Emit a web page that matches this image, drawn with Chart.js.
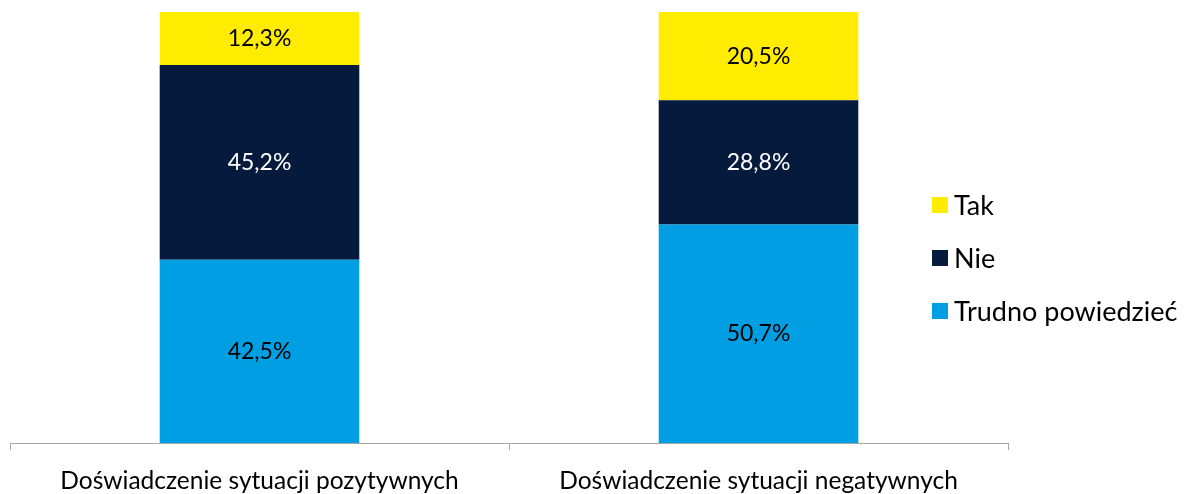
<!DOCTYPE html>
<html>
<head>
<meta charset="utf-8">
<script src="https://cdn.jsdelivr.net/npm/chart.js@4/dist/chart.umd.min.js"></script>
<style>
html,body{margin:0;padding:0;background:#fff;}
#wrap{position:relative;width:1185px;height:494px;}
</style>
</head>
<body>
<div id="wrap"><canvas id="c"></canvas></div>
<script>
const categories=['Doświadczenie sytuacji pozytywnych','Doświadczenie sytuacji negatywnych'];
const seriesNames=['Trudno powiedzieć','Nie','Tak'];
const trudno=[42.5,50.7];
const nie=[45.2,28.8];
const tak=[12.3,20.5];
const colors=['#009FE3','#061A3D','#FFEC00'];
const labelColors=['#000','#fff','#000'];
const FONT='Lato, "Noto Sans", sans-serif';

// value labels centered in each segment
const valueLabels={
  id:'valueLabels',
  afterDatasetsDraw(chart){
    const ctx=chart.ctx;
    ctx.save();
    ctx.font='23px '+FONT;
    ctx.textAlign='center';ctx.textBaseline='middle';
    chart.data.datasets.forEach((ds,i)=>{
      const meta=chart.getDatasetMeta(i);
      meta.data.forEach((bar,j)=>{
        const v=ds.data[j];
        ctx.fillStyle=labelColors[i];
        ctx.fillText(v.toFixed(1).replace('.',',')+'%',bar.x,(bar.y+bar.base)/2);
      });
    });
    ctx.restore();
  }
};

// legend on the right, top series first
const sideLegend={
  id:'sideLegend',
  afterDraw(chart){
    const ctx=chart.ctx;
    ctx.save();
    ctx.font='27px '+FONT;
    ctx.textBaseline='middle';ctx.textAlign='left';
    const ds=chart.data.datasets;
    const x=932,y0=205,step=53;
    for(let k=0;k<ds.length;k++){
      const d=ds[ds.length-1-k];
      const y=y0+k*step;
      ctx.fillStyle=d.backgroundColor;
      ctx.fillRect(x,y-8,16,16);
      ctx.fillStyle='#000';
      ctx.fillText(d.label,x+22,y+1);
    }
    ctx.restore();
  }
};

new Chart(document.getElementById('c'),{
  type:'bar',
  data:{
    labels:categories,
    datasets:[
      {label:seriesNames[0],data:trudno,backgroundColor:colors[0]},
      {label:seriesNames[1],data:nie,backgroundColor:colors[1]},
      {label:seriesNames[2],data:tak,backgroundColor:colors[2]}
    ]
  },
  options:{
    responsive:true,maintainAspectRatio:false,animation:false,
    layout:{padding:{left:10,right:177,top:12,bottom:0}},
    datasets:{bar:{barPercentage:0.4,categoryPercentage:1,borderWidth:0}},
    plugins:{legend:{display:false},tooltip:{enabled:false}},
    scales:{
      x:{stacked:true,offset:true,
        afterFit(scale){scale.height=51;},
        grid:{offset:true,drawOnChartArea:false,drawTicks:true,tickLength:7,color:'#A6A6A6'},
        border:{color:'#A6A6A6',width:1},
        ticks:{color:'#000',font:{family:FONT,size:24.5},padding:16,maxRotation:0}},
      y:{stacked:true,display:false,min:0,max:100}
    }
  },
  plugins:[valueLabels,sideLegend]
});
</script>
</body>
</html>
